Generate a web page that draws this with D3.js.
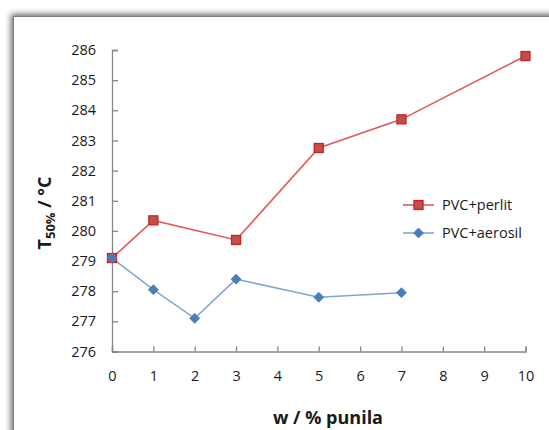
<!DOCTYPE html>
<html><head><meta charset="utf-8">
<script src="https://cdn.jsdelivr.net/npm/d3@7"></script>
<style>body{margin:0;background:#fff;}svg{display:block;font-family:"Open Sans","Liberation Sans",sans-serif;}</style>
</head><body>
<svg id="c" width="549" height="430"></svg>
<script>
const xTicks = [0,1,2,3,4,5,6,7,8,9,10];
const yTicks = [276,277,278,279,280,281,282,283,284,285,286];
const perlitX = [0,1,3,5,7,10];
const perlitY = [279.1,280.35,279.7,282.75,283.7,285.8];
const aerosilX = [0,1,2,3,5,7];
const aerosilY = [279.1,278.05,277.1,278.4,277.8,277.95];
const seriesNames = ["PVC+perlit","PVC+aerosil"];

const svg = d3.select("#c");
const defs = svg.append("defs");
const f = defs.append("filter").attr("id","sh").attr("x","-5%").attr("y","-5%").attr("width","120%").attr("height","120%");
f.append("feGaussianBlur").attr("in","SourceAlpha").attr("stdDeviation",3).attr("result","b");
f.append("feOffset").attr("in","b").attr("dx",-2).attr("dy",-2).attr("result","o");
f.append("feComponentTransfer").attr("in","o").attr("result","o2").append("feFuncA").attr("type","linear").attr("slope",0.6);
const m = f.append("feMerge"); m.append("feMergeNode").attr("in","o2"); m.append("feMergeNode").attr("in","SourceGraphic");

svg.append("rect").attr("x",13.5).attr("y",16.5).attr("width",600).attr("height",500)
  .attr("fill","#fff").attr("stroke","#7f7f7f").attr("stroke-width",1).attr("filter","url(#sh)");

const x = d3.scaleLinear().domain([0,10]).range([112,525.5]);
const y = d3.scaleLinear().domain([276,286]).range([351.5,50]);

const gx = svg.append("g").attr("transform","translate(0,351.5)")
  .call(d3.axisBottom(x).tickValues(xTicks).tickSizeInner(-5).tickSizeOuter(-5).tickPadding(19).tickFormat(d3.format("d")));
const gy = svg.append("g").attr("transform","translate(112,0)")
  .call(d3.axisLeft(y).tickValues(yTicks).tickSizeInner(-6).tickSizeOuter(-6).tickPadding(16).tickFormat(d3.format("d")));
[gx,gy].forEach(g=>{
  g.selectAll("path,line").attr("stroke","#868686").attr("stroke-width",1.3);
  g.selectAll("text").attr("fill","#1a1a1a").attr("font-size",14.5).attr("font-family","'Open Sans',sans-serif");
});

const line = d3.line().x(d=>x(d[0])).y(d=>y(d[1]));
const pData = perlitX.map((v,i)=>[v,perlitY[i]]);
const aData = aerosilX.map((v,i)=>[v,aerosilY[i]]);

svg.append("path").datum(aData).attr("d",line).attr("fill","none").attr("stroke","#7fa6d8").attr("stroke-width",1.6);
svg.append("path").datum(pData).attr("d",line).attr("fill","none").attr("stroke","#e05a5a").attr("stroke-width",1.6);

const diamond = "M0,-5L5,0L0,5L-5,0Z";
svg.selectAll(".pm").data(pData).join("rect").attr("class","pm")
  .attr("x",d=>x(d[0])-4.5).attr("y",d=>y(d[1])-4.5).attr("width",9).attr("height",9)
  .attr("fill","#c0504d").attr("stroke","#cc1f1f").attr("stroke-width",1.3);
svg.selectAll(".am").data(aData).join("path").attr("class","am")
  .attr("transform",d=>`translate(${x(d[0])},${y(d[1])})`).attr("d",diamond)
  .attr("fill","#4a7ebb").attr("stroke","#4a7ebb").attr("stroke-width",0.8);

// legend
const lg = svg.append("g");
lg.append("line").attr("x1",403).attr("x2",434).attr("y1",205).attr("y2",205).attr("stroke","#e05a5a").attr("stroke-width",1.6);
lg.append("rect").attr("x",414).attr("y",200.5).attr("width",9).attr("height",9).attr("fill","#c0504d").attr("stroke","#cc1f1f").attr("stroke-width",1.3);
lg.append("text").attr("x",442).attr("y",210).attr("font-size",14.5).attr("fill","#1a1a1a").text(seriesNames[0]);
lg.append("line").attr("x1",403).attr("x2",434).attr("y1",233).attr("y2",233).attr("stroke","#7fa6d8").attr("stroke-width",1.6);
lg.append("path").attr("transform","translate(418.5,233)").attr("d",diamond).attr("fill","#4a7ebb").attr("stroke","#4a7ebb").attr("stroke-width",0.8);
lg.append("text").attr("x",442).attr("y",238).attr("font-size",14.5).attr("fill","#1a1a1a").text(seriesNames[1]);

// axis titles
svg.append("text").attr("x",328).attr("y",424).attr("text-anchor","middle").attr("font-weight","bold")
  .attr("font-size",18).attr("fill","#1a1a1a").text("w / % punila");
const yt = svg.append("text").attr("transform","translate(51,213) rotate(-90)").attr("text-anchor","middle")
  .attr("font-weight","bold").attr("font-size",18).attr("fill","#1a1a1a");
yt.append("tspan").text("T");
yt.append("tspan").attr("font-size",13).attr("dy",4).text("50%");
yt.append("tspan").attr("dy",-4).text(" / °C");
</script>
</body></html>
